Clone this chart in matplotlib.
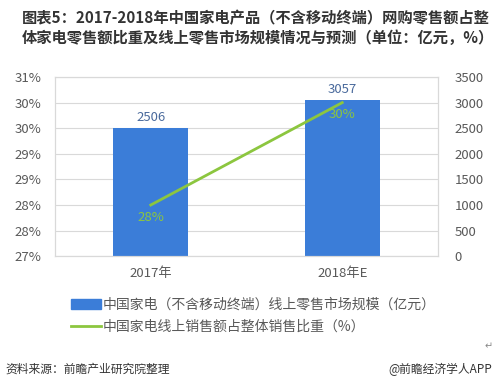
import math
import numpy as np
import matplotlib
matplotlib.use("Agg")
import matplotlib.pyplot as plt
from matplotlib.ticker import FuncFormatter, MultipleLocator
from matplotlib.patches import Patch
from matplotlib.lines import Line2D

plt.rcParams['font.family'] = ['Noto Sans CJK SC', 'DejaVu Sans']

years = ["2017年", "2018年E"]
market_size = [2506, 3057]          # 亿元
online_share = [0.28, 0.30]         # 占比
bar_label = "中国家电（不含移动终端）线上零售市场规模（亿元）"
line_label = "中国家电线上销售额占整体销售比重（%）"
title = "图表5：2017-2018年中国家电产品（不含移动终端）网购零售额占整\n体家电零售额比重及线上零售市场规模情况与预测（单位：亿元，%）"

blue = "#3b7dd8"
green = "#8cc63f"
grey = "#595959"
gridc = "#d9d9d9"

fig = plt.figure(figsize=(5, 3.87), dpi=100)
ax = fig.add_axes([0.11, 0.338, 0.766, 0.463])
x = np.arange(len(years))

ax.bar(x, market_size, width=0.39, color=blue, zorder=2)
ax.set_ylim(0, 3500)
ax.yaxis.set_major_locator(MultipleLocator(500))
ax.grid(axis="y", color=gridc, linewidth=0.8, zorder=0)
ax.set_axisbelow(True)
ax.set_xlim(-0.5, 1.5)
ax.set_xticks(x)
ax.set_xticklabels(years)
for i, v in enumerate(market_size):
    ax.annotate(str(v), (x[i], v), xytext=(0, 3), textcoords="offset points",
                ha="center", va="bottom", color="#4a6a9c", fontsize=9.5)

ax2 = ax.twinx()
ax2.plot(x, online_share, color=green, linewidth=2, zorder=3)
ax2.set_ylim(0.27, 0.305)
ax2.yaxis.set_major_locator(MultipleLocator(0.005))
ax2.yaxis.set_major_formatter(FuncFormatter(
    lambda v, p: "%d%%" % math.floor(round(v * 100, 6) + 0.5)))
for i, v in enumerate(online_share):
    ax2.annotate("%d%%" % round(v * 100), (x[i], v), xytext=(0, -4),
                 textcoords="offset points", ha="center", va="top",
                 color=green, fontsize=9.5)

# percentages on the left, market size on the right
ax.yaxis.tick_right()
ax2.yaxis.tick_left()

for a in (ax, ax2):
    a.tick_params(length=0, colors=grey, labelsize=9.5)
    for s in a.spines.values():
        s.set_color(gridc)
        s.set_linewidth(0.8)
ax.tick_params(axis="x", pad=8)
ax.tick_params(axis="y", pad=12)
ax2.tick_params(axis="y", pad=10)

fig.text(0.044, 0.975, title, fontsize=11, fontweight="bold", color="#333333",
         va="top", ha="left", linespacing=1.3)

handles = [Patch(color=blue), Line2D([0], [0], color=green, linewidth=2)]
fig.legend(handles, [bar_label, line_label], loc="upper left",
           bbox_to_anchor=(0.13, 0.245), frameon=False, fontsize=10,
           labelcolor=grey, handlelength=2.2, handletextpad=0.1,
           labelspacing=0.55, borderaxespad=0)

fig.text(0.985, 0.105, "↵", fontsize=7, color="#888888", ha="right", va="center")
fig.text(0.01, 0.045, "资料来源：前瞻产业研究院整理", fontsize=8.5,
         style="italic", color="#333333", va="center", ha="left")
fig.text(0.985, 0.045, "@前瞻经济学人APP", fontsize=8.5, color="#333333",
         va="center", ha="right")

fig.savefig("out.png", dpi=100)
